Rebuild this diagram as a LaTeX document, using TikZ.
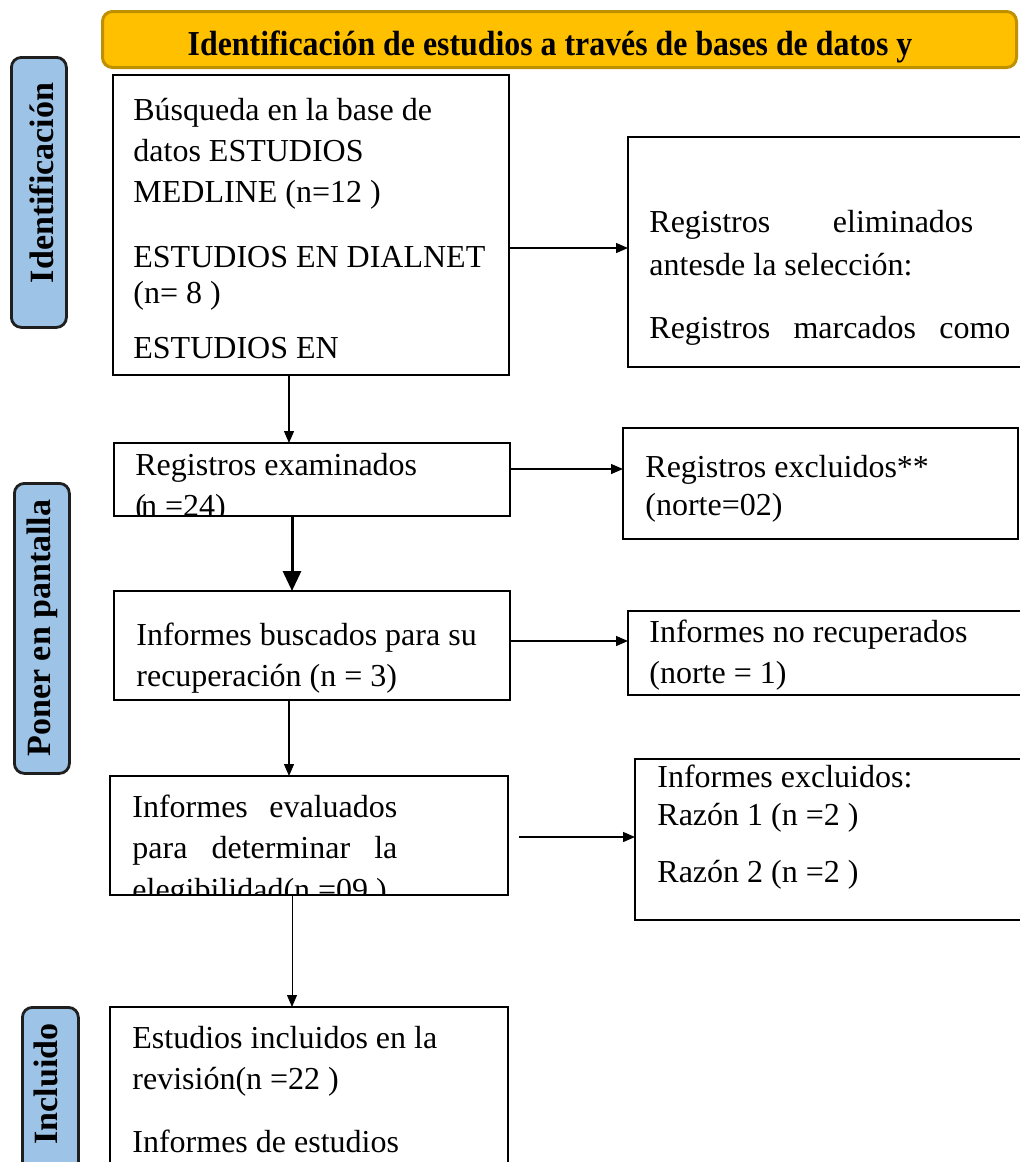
\documentclass[tikz,border=0pt]{standalone}
\usepackage{fontspec}
\setmainfont{Liberation Serif}
\usetikzlibrary{arrows.meta,positioning,calc}

\definecolor{hdrfill}{HTML}{FFC000}
\definecolor{hdrline}{HTML}{BF9000}
\definecolor{sidefill}{HTML}{9DC3E6}
\definecolor{sideline}{HTML}{1F1F1F}

\begin{document}
\begin{tikzpicture}[x=0.5pt, y=-0.5pt,
        box/.style={draw, line width=1.2pt, fill=white, inner sep=0, outer sep=0, anchor=north west},
        side/.style={draw=sideline, fill=sidefill, line width=1.4pt, rounded corners=5pt, inner sep=0, anchor=north west},
        sidetext/.style={rotate=90, inner sep=0, font=\fontsize{17}{20}\selectfont\bfseries},
        txt/.style={anchor=base west, inner sep=0, align=flush left, text width=185pt, font=\fontsize{16}{20.5}\selectfont},
        arr/.style={line width=0.65pt, -{Triangle[length=6pt,width=5pt]}},
        bigarr/.style={line width=1.5pt, -{Triangle[length=10pt,width=9pt]}}]
        \useasboundingbox (0,0) rectangle (1020,1162);

        \node[draw=hdrline, fill=hdrfill, line width=1.5pt, rounded corners=5pt, inner sep=0,
              minimum width=457pt, minimum height=28pt, anchor=north west] (hdr) at (101,10) {};
        \node[anchor=base, inner sep=0] (hdr-t) at (550,55)
              {\scalebox{0.91}[1]{\fontsize{17.5}{21}\selectfont\bfseries Identificación de estudios a través de bases de datos y}};

        \node[side, minimum width=27.5pt, minimum height=135pt] (side-id) at (10,56) {};
        \node[side, minimum width=27.5pt, minimum height=145pt] (side-scr) at (13,482) {};
        \node[side, minimum width=28pt, minimum height=84.5pt] (side-inc) at (21,1006) {};
        \node[sidetext] (side-id-t) at (42,183) {Identificación};
        \node[sidetext] (side-scr-t) at (42,628) {Poner en pantalla};
        \node[sidetext] (side-inc-t) at (46,1084) {Incluido};

        \node[box, minimum width=198pt, minimum height=150pt] (b1) at (113,75) {};
        \node[box, minimum width=198pt, minimum height=115pt] (b2) at (628,137) {};
        \node[box, minimum width=198pt, minimum height=36.5pt] (b3) at (114,443) {};
        \node[box, minimum width=197.5pt, minimum height=55.5pt] (b4) at (623,428) {};
        \node[box, minimum width=198pt, minimum height=54.5pt] (b5) at (114,591) {};
        \node[box, minimum width=198pt, minimum height=42pt] (b6) at (628,611) {};
        \node[box, minimum width=199pt, minimum height=59.5pt] (b7) at (110,776) {};
        \node[box, minimum width=194.5pt, minimum height=80.5pt] (b8) at (635,759) {};
        \node[box, minimum width=199pt, minimum height=81.5pt] (b9) at (110,1007) {};

        \node[txt] (b1-t) at (133,120) {Búsqueda en la base de\\datos ESTUDIOS\\MEDLINE (n=12 )\\[12pt]ESTUDIOS EN DIALNET\\[-2.5pt](n= 8 )\\[7pt]ESTUDIOS EN};
        \node[txt, text width=180.5pt] (b2-t) at (649,232) {\makebox[162pt][s]{Registros\hfill eliminados}\\[1pt]antesde la selección:\\[11pt]Registros\hfill marcados\hfill como};
        \begin{scope}
            \clip (b3.north west) rectangle (b3.south east);
            \node[txt] (b3-t) at (135,475) {Registros examinados\\(\kern-2.5pt n =24)};
        \end{scope}
        \node[txt] (b4-t) at (645,477) {Registros excluidos**\\[-1.5pt](norte=02)};
        \node[txt] (b5-t) at (136,645) {Informes buscados para su\\recuperación (n = 3)};
        \node[txt] (b6-t) at (649,642) {Informes no recuperados\\(norte = 1)};
        \begin{scope}
            \clip (b7.north west) rectangle (b7.south east);
            \node[txt, text width=132.5pt] (b7-t) at (132,817) {Informes\hfill evaluados\\para\hfill determinar\hfill la\\[0.5pt]elegibilidad(n =09 )};
        \end{scope}
        \node[txt, text width=180pt] (b8-t) at (657,787) {Informes excluidos:\\[-1.5pt]Razón 1 (n =2 )\\[8pt]Razón 2 (n =2 )};
        \node[txt] (b9-t) at (132,1048) {Estudios incluidos en la\\revisión(n =22 )\\[11pt]Informes de estudios};

        \coordinate (a1) at ([yshift=2pt]b2.west);
        \coordinate (a2) at ([yshift=7.25pt]b4.west);
        \coordinate (a3) at ([yshift=6pt]b6.west);
        \coordinate (a4) at ([yshift=1.25pt]b8.west);
        \draw[arr] (b1.east |- a1) -- (a1);
        \draw[arr] (b3.east |- a2) -- (a2);
        \draw[arr] (b5.east |- a3) -- (a3);
        \path (b7.east |- a4) coordinate (a4-s);
        \draw[arr] ([xshift=5.5pt]a4-s) -- (a4);

        \coordinate (d1) at ([xshift=-11pt]b1.south);
        \coordinate (d2) at ([xshift=-10pt]b3.south);
        \coordinate (d3) at ([xshift=-11.5pt]b5.south);
        \coordinate (d4) at ([xshift=-8.5pt]b7.south);
        \draw[arr] (d1) -- (d1 |- b3.north);
        \draw[bigarr] (d2) -- (d2 |- b5.north);
        \draw[arr] (d3) -- (d3 |- b7.north);
        \draw[arr, line width=0.5pt] (d4) -- (d4 |- b9.north);
        %\draw[arr] (b9.south) -- ++(0,40);
\end{tikzpicture}
\end{document}
